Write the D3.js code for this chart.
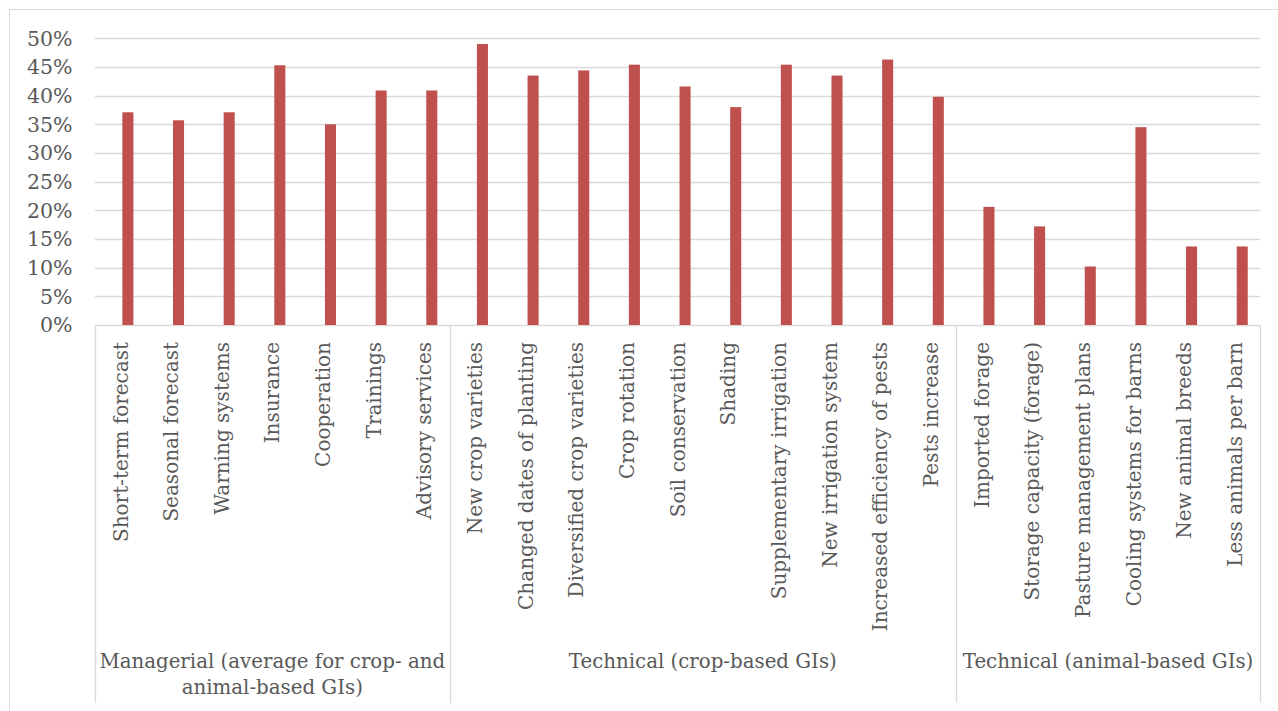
<!DOCTYPE html>
<html>
<head>
<meta charset="utf-8">
<script src="https://cdn.jsdelivr.net/npm/d3@7"></script>
<style>
  body { margin: 0; background: #fff; }
  text { font-family: "DejaVu Serif", serif; fill: #595959; }
</style>
</head>
<body>
<div id="chart"></div>
<script>
// Chart data
var categories = [
  "Short-term forecast", "Seasonal forecast", "Warning systems", "Insurance",
  "Cooperation", "Trainings", "Advisory services",
  "New crop varieties", "Changed dates of planting", "Diversified crop varieties",
  "Crop rotation", "Soil conservation", "Shading", "Supplementary irrigation",
  "New irrigation system", "Increased efficiency of pests", "Pests increase",
  "Imported forage", "Storage capacity (forage)", "Pasture management plans",
  "Cooling systems for barns", "New animal breeds", "Less animals per barn"
];
var values = [
  0.371, 0.357, 0.371, 0.453, 0.350, 0.409, 0.409,
  0.490, 0.435, 0.444, 0.454, 0.416, 0.380, 0.454, 0.435, 0.463, 0.398,
  0.206, 0.172, 0.102, 0.345, 0.137, 0.137
];
var groupNames = [
  ["Managerial (average for crop- and", "animal-based GIs)"],
  ["Technical (crop-based GIs)"],
  ["Technical (animal-based GIs)"]
];
var groupSizes = [7, 10, 6];
var yTicks = [0, 0.05, 0.10, 0.15, 0.20, 0.25, 0.30, 0.35, 0.40, 0.45, 0.50];

// Layout
var svgWidth = 1278;
var svgHeight = 711;
var plot = { left: 95, right: 1260, top: 38.3, bottom: 325 };

var svg = d3.select("#chart")
  .append("svg")
  .attr("width", svgWidth)
  .attr("height", svgHeight);

// chart frame
svg.append("rect")
  .attr("x", 9.5).attr("y", 9.5)
  .attr("width", 1290).attr("height", 730)
  .attr("fill", "none")
  .attr("stroke", "#d9d9d9");

var xScale = d3.scaleBand()
  .domain(categories)
  .range([plot.left, plot.right])
  .padding(0);

var yScale = d3.scaleLinear()
  .domain([0, 0.5])
  .range([plot.bottom, plot.top]);

// gridlines
svg.append("g")
  .selectAll("line")
  .data(yTicks)
  .enter()
  .append("line")
  .attr("x1", plot.left)
  .attr("x2", plot.right)
  .attr("y1", d => Math.round(yScale(d)) + 0.5)
  .attr("y2", d => Math.round(yScale(d)) + 0.5)
  .attr("stroke", "#d9d9d9")
  .attr("stroke-width", 1.3);

// y axis labels
svg.append("g")
  .selectAll("text")
  .data(yTicks)
  .enter()
  .append("text")
  .attr("x", 72.5)
  .attr("y", d => yScale(d))
  .attr("dy", "0.36em")
  .attr("text-anchor", "end")
  .style("font-size", "20.5px")
  .text(d3.format(".0%"));

// bars (sit a bit right of the band centre, as in the original)
var bw = xScale.bandwidth();
svg.append("g")
  .selectAll("rect")
  .data(values)
  .enter()
  .append("rect")
  .attr("x", (d, i) => xScale(categories[i]) + bw * 0.54)
  .attr("y", d => yScale(d))
  .attr("width", bw * 0.218)
  .attr("height", d => yScale(0) - yScale(d))
  .attr("fill", "#c0504d");

// category labels
svg.append("g")
  .selectAll("text")
  .data(categories)
  .enter()
  .append("text")
  .attr("transform", d => `translate(${xScale(d) + bw / 2}, 342) rotate(-90)`)
  .attr("dy", "0.36em")
  .attr("text-anchor", "end")
  .style("font-size", "20px")
  .text(d => d);

// group separators and labels
var bounds = [0];
groupSizes.forEach(n => bounds.push(bounds[bounds.length - 1] + n));
var edgeX = bounds.map(b => b < categories.length ? xScale(categories[b]) : plot.right);

svg.append("g")
  .selectAll("line")
  .data(edgeX)
  .enter()
  .append("line")
  .attr("x1", d => Math.round(d) + 0.5)
  .attr("x2", d => Math.round(d) + 0.5)
  .attr("y1", plot.bottom)
  .attr("y2", 703)
  .attr("stroke", "#d9d9d9")
  .attr("stroke-width", 1.3);

var groupLabels = svg.append("g")
  .selectAll("text")
  .data(groupNames)
  .enter()
  .append("text")
  .attr("text-anchor", "middle")
  .style("font-size", "19.8px");

groupLabels.selectAll("tspan")
  .data((d, i) => d.map(line => ({ line: line, g: i })))
  .enter()
  .append("tspan")
  .attr("x", d => (edgeX[d.g] + edgeX[d.g + 1]) / 2)
  .attr("y", (d, j) => 668 + j * 26)
  .text(d => d.line);
</script>
</body>
</html>
